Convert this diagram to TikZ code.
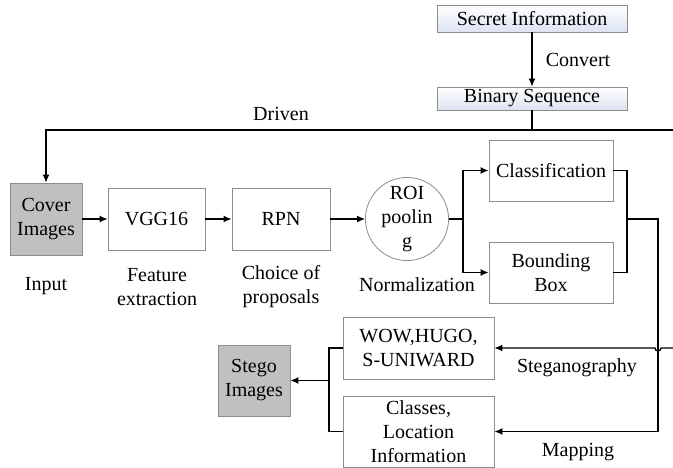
\documentclass[tikz,border=0pt]{standalone}
\usepackage{fontspec}
\setmainfont{Liberation Serif}
\usetikzlibrary{arrows.meta}
\definecolor{boxline}{HTML}{8C8C8C}
\definecolor{grayfill}{HTML}{C0C0C0}
\definecolor{topfill}{HTML}{DCE3F0}
\begin{document}
\begin{tikzpicture}[x=1pt,y=-1pt,
  font=\fontsize{20pt}{24pt}\selectfont,
  box/.style={draw=boxline,line width=0.8pt,fill=white,align=center,inner sep=0pt},
  graybox/.style={box,fill=grayfill},
  topbox/.style={box,top color=white,bottom color=topfill},
  wire/.style={line width=1.3pt,black},
  arr/.style={wire,-{Latex[length=8pt,width=7pt]}},
  lbl/.style={align=center,inner sep=0pt}]
\useasboundingbox (0,0) rectangle (673,468);
% nodes
\node[topbox,minimum width=190pt,minimum height=27pt] (secret) at (532,18.5) {Secret Information};
\node[topbox,minimum width=190pt,minimum height=23pt] (binary) at (532,98.5) {Binary Sequence};
\node[graybox,minimum width=72pt,minimum height=72pt] (cover) at (46,219) {Cover\\Images};
\node[box,minimum width=97pt,minimum height=62pt] (vgg) at (156.5,219) {VGG16};
\node[box,minimum width=98pt,minimum height=62pt] (rpn) at (281,219) {RPN};
\node[box,circle,minimum size=77pt] (roi) at (407,219) {ROI\\poolin\\g};
\node[box,minimum width=124pt,minimum height=61pt] (cls) at (551,170.5) {Classification};
\node[box,minimum width=124pt,minimum height=61pt] (bb) at (551,272.5) {Bounding\\Box};
\node[box,minimum width=151pt,minimum height=62pt] (wow) at (418.5,348) {WOW,HUGO,\\S-UNIWARD};
\node[box,minimum width=151pt,minimum height=71pt] (classes) at (418.5,431.5) {Classes,\\Location\\Information};
\node[graybox,minimum width=72pt,minimum height=71pt] (stego) at (254,380.5) {Stego\\Images};
% labels
\node[lbl] (convert) at (578,60) {Convert};
\node[lbl] (driven) at (281,114) {Driven};
\node[lbl] (input) at (46,286) {Input};
\node[lbl] (feat) at (157,287) {Feature\\extraction};
\node[lbl] (choice) at (281,287) {Choice of\\proposals};
\node[lbl] (norm) at (417,285) {Normalization};
\node[lbl] (steg) at (577,368) {Steganography};
\node[lbl] (map) at (578,452) {Mapping};
% coordinates
\coordinate (topR) at (673,130);
\coordinate (topJ) at (532,130);
\coordinate (topL) at (46,130);
\coordinate (j1) at (463,219);
\coordinate (j2) at (627,219);
\coordinate (j3) at (658,219);
\coordinate (j4) at (658,431.5);
\coordinate (hopR) at (661,348);
\coordinate (rightS) at (673,348);
\coordinate (k1) at (329,348);
\coordinate (k2) at (329,431.5);
\coordinate (k3) at (329,380.5);
% connectors
\draw[arr] (secret) -- (binary);
\draw[wire] (binary.south) -- (topJ);
\draw[arr] (topR) -- (topL) -- (cover.north);
\draw[arr] (cover) -- (vgg);
\draw[arr] (vgg) -- (rpn);
\draw[arr] (rpn) -- (roi);
\draw[wire] (roi.east) -- (j1);
\draw[arr] (j1) |- (cls.west);
\draw[arr] (j1) |- (bb.west);
\draw[wire] (cls.east) -| (j2) |- (bb.east);
\draw[wire] (j2) -- (j3) -- (j4);
\draw[arr] (j4) -- (classes.east);
\draw[arr] (rightS) -- (hopR) arc[start angle=0,end angle=-180,radius=3pt] -- (wow.east);
\draw[wire] (wow.west) -- (k1) -- (k2) -- (classes.west);
\draw[arr] (k3) -- (stego.east);
\end{tikzpicture}
\end{document}
